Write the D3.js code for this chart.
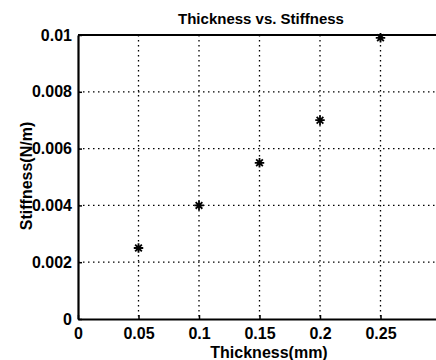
<!DOCTYPE html>
<html>
<head>
<meta charset="utf-8">
<script src="https://cdn.jsdelivr.net/npm/d3@7"></script>
<style>
  body { margin: 0; background: #fff; }
  svg { display: block; font-family: "Liberation Sans", Arial, sans-serif; }
</style>
</head>
<body>
<div id="chart"></div>
<script>
// data
var thickness = [0.05, 0.1, 0.15, 0.2, 0.25];
var stiffness = [0.0025, 0.004, 0.0055, 0.007, 0.0099];
var xTicks = [0, 0.05, 0.1, 0.15, 0.2, 0.25];
var yTicks = [0, 0.002, 0.004, 0.006, 0.008, 0.01];

function init() {
    var w = 436;
    var h = 360;

    // plot box (right edge runs past the window, like the picture)
    var left = 78, top = 35, bottom = 319, right = 441;

    var x = d3.scaleLinear().domain([0, 0.3]).range([left, right]);
    var y = d3.scaleLinear().domain([0, 0.01]).range([bottom, top]);

    var svg = d3.select("#chart")
        .append("svg")
        .attr("width", w)
        .attr("height", h);

    // dotted grid
    svg.append("g").selectAll("line")
        .data(xTicks.filter(function(d){ return d > 0; }))
        .enter().append("line")
        .attr("x1", function(d){ return x(d); })
        .attr("x2", function(d){ return x(d); })
        .attr("y1", top)
        .attr("y2", bottom)
        .attr("stroke", "#000")
        .attr("stroke-width", 1.3)
        .attr("stroke-dasharray", "1.5,3.5");

    svg.append("g").selectAll("line")
        .data(yTicks.filter(function(d){ return d > 0; }))
        .enter().append("line")
        .attr("x1", left)
        .attr("x2", right)
        .attr("y1", function(d){ return y(d); })
        .attr("y2", function(d){ return y(d); })
        .attr("stroke", "#000")
        .attr("stroke-width", 1.3)
        .attr("stroke-dasharray", "1.5,3.5");

    // axes, ticks point inward
    var xAxis = d3.axisBottom(x).tickValues(xTicks)
        .tickFormat(function(d){ return d3.format("~g")(d); })
        .tickSizeInner(-4).tickSizeOuter(0).tickPadding(9);
    var yAxis = d3.axisLeft(y).tickValues(yTicks)
        .tickFormat(function(d){ return d === 0 ? "0" : d3.format("~g")(d); })
        .tickSizeInner(-4).tickSizeOuter(0).tickPadding(6);

    var gx = svg.append("g")
        .attr("transform", "translate(0," + bottom + ")")
        .call(xAxis);
    var gy = svg.append("g")
        .attr("transform", "translate(" + left + ",0)")
        .call(yAxis);

    [gx, gy].forEach(function(g){
        g.select(".domain").attr("stroke", "#000").attr("stroke-width", 2.2);
        g.selectAll(".tick line").attr("stroke", "#000").attr("stroke-width", 1.5);
        g.selectAll("text")
            .attr("fill", "#000")
            .style("font-size", "16px")
            .style("font-weight", "bold");
    });

    // top border
    svg.append("line")
        .attr("x1", left).attr("x2", right)
        .attr("y1", top).attr("y2", top)
        .attr("stroke", "#000").attr("stroke-width", 2.2);

    // asterisk markers
    var asterisk = {
        draw: function(ctx, size) {
            var r = Math.sqrt(size) / 2;
            var d = r * Math.SQRT1_2;
            ctx.moveTo(-r, 0); ctx.lineTo(r, 0);
            ctx.moveTo(0, -r); ctx.lineTo(0, r);
            ctx.moveTo(-d, -d); ctx.lineTo(d, d);
            ctx.moveTo(-d, d); ctx.lineTo(d, -d);
        }
    };
    var sym = d3.symbol().type(asterisk).size(90);

    svg.append("g").selectAll("path")
        .data(thickness)
        .enter().append("path")
        .attr("transform", function(d, i){
            return "translate(" + x(d) + "," + y(stiffness[i]) + ")";
        })
        .attr("d", sym)
        .attr("fill", "none")
        .attr("stroke", "#000")
        .attr("stroke-width", 1.8);

    // title and axis labels
    svg.append("text")
        .attr("x", 261).attr("y", 24)
        .attr("text-anchor", "middle")
        .style("font-size", "15px").style("font-weight", "bold")
        .text("Thickness vs. Stiffness");

    svg.append("text")
        .attr("x", 269).attr("y", 358)
        .attr("text-anchor", "middle")
        .style("font-size", "16px").style("font-weight", "bold")
        .text("Thickness(mm)");

    svg.append("text")
        .attr("transform", "translate(32,176) rotate(-90)")
        .attr("text-anchor", "middle")
        .style("font-size", "16px").style("font-weight", "bold")
        .text("Stiffness(N/m)");
}

window.onload = init;
</script>
</body>
</html>
